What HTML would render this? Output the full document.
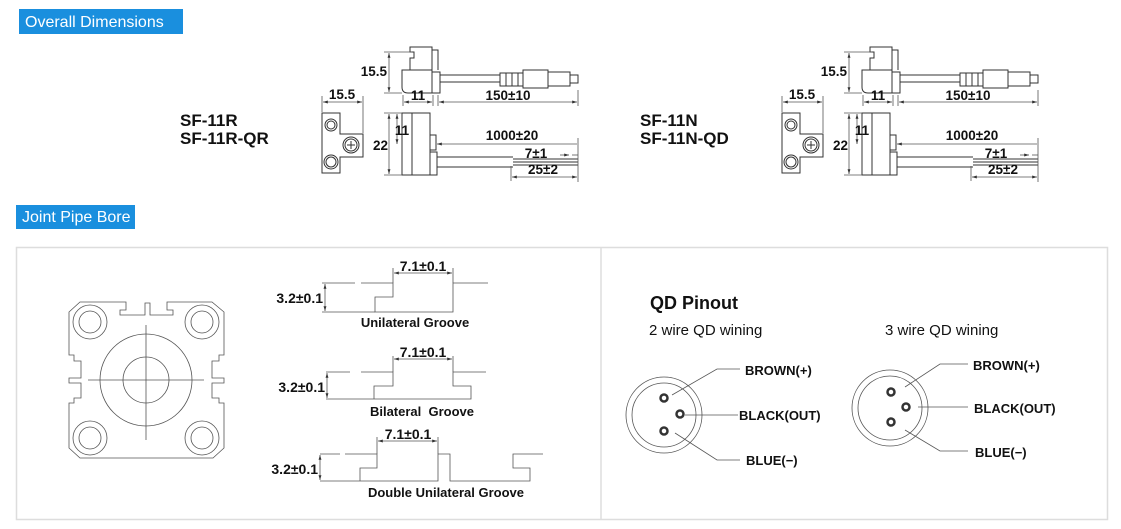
<!DOCTYPE html>
<html><head><meta charset="utf-8"><style>
html,body{margin:0;padding:0;background:#fff;}
svg{display:block;font-family:"Liberation Sans",Arial,sans-serif;}
.l{fill:none;stroke:#333;stroke-width:1}
.t{stroke:#555;stroke-width:0.8;fill:none}
.d{font-size:13.5px;fill:#111;font-weight:bold}
</style></head><body>
<svg width="1121" height="529" viewBox="0 0 1121 529" xmlns="http://www.w3.org/2000/svg">
<defs>
<marker id="a" viewBox="0 0 10 10" refX="10" refY="5" markerWidth="6" markerHeight="6" orient="auto-start-reverse"><path d="M0,2 L10,5 L0,8z" fill="#333"/></marker>
</defs>
<rect x="19" y="9" width="164" height="25" fill="#1a8fde"/>
<text x="25" y="27" font-size="16" fill="#fff">Overall Dimensions</text>
<rect x="16" y="205" width="119" height="24" fill="#1a8fde"/>
<text x="22" y="222" font-size="16" fill="#fff">Joint Pipe Bore</text>
<rect x="16.5" y="247.5" width="1091" height="272" fill="none" stroke="#ddd" stroke-width="1.5"/>
<line x1="601" y1="248" x2="601" y2="519" stroke="#ddd" stroke-width="1.5"/>

<g font-size="17" font-weight="bold" fill="#111">
<text x="180" y="126">SF-11R</text>
<text x="180" y="144">SF-11R-QR</text>
<text x="640" y="126">SF-11N</text>
<text x="640" y="144">SF-11N-QD</text>
</g>

<!-- sensor drawing 1 -->
<g>
<path class="l" d="M410,70 V58 H414 V52 H410 V47 H432 V70 M432,50 H438 V70 M402,70 H432 V93 H408 Q402,93 402,87 Z M432,72 H440 V93 H432 M440,75 H500 M440,82 H500 M500,73 H523 V86 H500 Z M506,73 V86 M512,73 V86 M518,73 V86 M523,70 H548 V88 H523 Z M548,72 H570 V86 H548 Z M570,75 H578 V83 H570"/>
<line class="t" x1="389" y1="53" x2="389" y2="92" marker-start="url(#a)" marker-end="url(#a)"/>
<line class="t" x1="384" y1="52" x2="412" y2="52"/><line class="t" x1="384" y1="93" x2="402" y2="93"/>
<text class="d" x="387" y="76" text-anchor="end">15.5</text>
<line class="t" x1="403" y1="95" x2="403" y2="106"/><line class="t" x1="433" y1="95" x2="433" y2="106"/>
<line class="t" x1="404" y1="102" x2="432" y2="102" marker-start="url(#a)" marker-end="url(#a)"/>
<text class="d" x="418" y="100" text-anchor="middle">11</text>
<line class="t" x1="438" y1="95" x2="438" y2="106"/><line class="t" x1="578" y1="90" x2="578" y2="106"/>
<line class="t" x1="439" y1="102" x2="577" y2="102" marker-start="url(#a)" marker-end="url(#a)"/>
<text class="d" x="508" y="100" text-anchor="middle">150±10</text>
<path class="l" d="M322,113 H340 V134 H363 V157 H340 V173 H322 Z"/>
<circle class="l" cx="331" cy="125" r="6"/><circle class="l" cx="331" cy="125" r="4"/>
<circle class="l" cx="331" cy="162" r="7"/><circle class="l" cx="331" cy="162" r="5"/>
<circle class="l" cx="351" cy="145" r="8"/><circle class="l" cx="351" cy="145" r="6"/>
<path class="l" d="M347,145 H355 M351,141 V149"/>
<line class="t" x1="322" y1="96" x2="322" y2="112"/><line class="t" x1="363" y1="96" x2="363" y2="133"/>
<line class="t" x1="323" y1="102" x2="362" y2="102" marker-start="url(#a)" marker-end="url(#a)"/>
<text class="d" x="342" y="99" text-anchor="middle">15.5</text>
<path class="l" d="M402,113 H430 V175 H402 Z M412,113 V175 M430,135 H436 V150 H430 M430,152 H437 V175 H430 M437,157 H513 M437,167 H513 M513,159 H578 M513,162 H578 M513,165 H578"/>
<line class="t" x1="384" y1="113" x2="402" y2="113"/><line class="t" x1="384" y1="175" x2="402" y2="175"/>
<line class="t" x1="389" y1="114" x2="389" y2="174" marker-start="url(#a)" marker-end="url(#a)"/>
<text class="d" x="388" y="150" text-anchor="end">22</text>
<line class="t" x1="397" y1="114" x2="397" y2="144" marker-start="url(#a)" marker-end="url(#a)"/>
<text class="d" x="402" y="135" text-anchor="middle">11</text>
<line class="t" x1="437" y1="144" x2="577" y2="144" marker-start="url(#a)"/>
<line class="t" x1="578" y1="138" x2="578" y2="182"/>
<text class="d" x="512" y="140" text-anchor="middle">1000±20</text>
<line class="t" x1="560" y1="155" x2="569" y2="155" marker-end="url(#a)"/>
<line class="t" x1="572" y1="155" x2="578" y2="155"/>
<text class="d" x="536" y="158" text-anchor="middle">7±1</text>
<line class="t" x1="511" y1="166" x2="511" y2="181"/>
<line class="t" x1="512" y1="177" x2="577" y2="177" marker-start="url(#a)" marker-end="url(#a)"/>
<text class="d" x="543" y="174" text-anchor="middle">25±2</text>
</g>

<!-- sensor drawing 2 -->
<g transform="translate(460,0)">
<path class="l" d="M410,70 V58 H414 V52 H410 V47 H432 V70 M432,50 H438 V70 M402,70 H432 V93 H408 Q402,93 402,87 Z M432,72 H440 V93 H432 M440,75 H500 M440,82 H500 M500,73 H523 V86 H500 Z M506,73 V86 M512,73 V86 M518,73 V86 M523,70 H548 V88 H523 Z M548,72 H570 V86 H548 Z M570,75 H578 V83 H570"/>
<line class="t" x1="389" y1="53" x2="389" y2="92" marker-start="url(#a)" marker-end="url(#a)"/>
<line class="t" x1="384" y1="52" x2="412" y2="52"/><line class="t" x1="384" y1="93" x2="402" y2="93"/>
<text class="d" x="387" y="76" text-anchor="end">15.5</text>
<line class="t" x1="403" y1="95" x2="403" y2="106"/><line class="t" x1="433" y1="95" x2="433" y2="106"/>
<line class="t" x1="404" y1="102" x2="432" y2="102" marker-start="url(#a)" marker-end="url(#a)"/>
<text class="d" x="418" y="100" text-anchor="middle">11</text>
<line class="t" x1="438" y1="95" x2="438" y2="106"/><line class="t" x1="578" y1="90" x2="578" y2="106"/>
<line class="t" x1="439" y1="102" x2="577" y2="102" marker-start="url(#a)" marker-end="url(#a)"/>
<text class="d" x="508" y="100" text-anchor="middle">150±10</text>
<path class="l" d="M322,113 H340 V134 H363 V157 H340 V173 H322 Z"/>
<circle class="l" cx="331" cy="125" r="6"/><circle class="l" cx="331" cy="125" r="4"/>
<circle class="l" cx="331" cy="162" r="7"/><circle class="l" cx="331" cy="162" r="5"/>
<circle class="l" cx="351" cy="145" r="8"/><circle class="l" cx="351" cy="145" r="6"/>
<path class="l" d="M347,145 H355 M351,141 V149"/>
<line class="t" x1="322" y1="96" x2="322" y2="112"/><line class="t" x1="363" y1="96" x2="363" y2="133"/>
<line class="t" x1="323" y1="102" x2="362" y2="102" marker-start="url(#a)" marker-end="url(#a)"/>
<text class="d" x="342" y="99" text-anchor="middle">15.5</text>
<path class="l" d="M402,113 H430 V175 H402 Z M412,113 V175 M430,135 H436 V150 H430 M430,152 H437 V175 H430 M437,157 H513 M437,167 H513 M513,159 H578 M513,162 H578 M513,165 H578"/>
<line class="t" x1="384" y1="113" x2="402" y2="113"/><line class="t" x1="384" y1="175" x2="402" y2="175"/>
<line class="t" x1="389" y1="114" x2="389" y2="174" marker-start="url(#a)" marker-end="url(#a)"/>
<text class="d" x="388" y="150" text-anchor="end">22</text>
<line class="t" x1="397" y1="114" x2="397" y2="144" marker-start="url(#a)" marker-end="url(#a)"/>
<text class="d" x="402" y="135" text-anchor="middle">11</text>
<line class="t" x1="437" y1="144" x2="577" y2="144" marker-start="url(#a)"/>
<line class="t" x1="578" y1="138" x2="578" y2="182"/>
<text class="d" x="512" y="140" text-anchor="middle">1000±20</text>
<line class="t" x1="560" y1="155" x2="569" y2="155" marker-end="url(#a)"/>
<line class="t" x1="572" y1="155" x2="578" y2="155"/>
<text class="d" x="536" y="158" text-anchor="middle">7±1</text>
<line class="t" x1="511" y1="166" x2="511" y2="181"/>
<line class="t" x1="512" y1="177" x2="577" y2="177" marker-start="url(#a)" marker-end="url(#a)"/>
<text class="d" x="543" y="174" text-anchor="middle">25±2</text>
</g>

<!-- flange -->
<g class="t" stroke="#555">
<path d="M80,302 H126 V310 H120 V315 H145 V303 H150 V315 H173 V310 H167 V302 H212 L224,312 V355 H219 V361 H212 V378 H224 V383 H212 V398 H219 V403 H224 V448 L213,458 H80 L69,448 V403 H74 V398 H81 V383 H69 V378 H81 V361 H74 V355 H69 V312 Z"/>
<circle cx="90" cy="322" r="17"/><circle cx="90" cy="322" r="11"/>
<circle cx="202" cy="322" r="17"/><circle cx="202" cy="322" r="11"/>
<circle cx="90" cy="438" r="17"/><circle cx="90" cy="438" r="11"/>
<circle cx="202" cy="438" r="17"/><circle cx="202" cy="438" r="11"/>
<circle cx="146" cy="380" r="46"/><circle cx="146" cy="380" r="23"/>
<path d="M88,380 H204 M146,325 V440"/>
</g>

<!-- grooves -->
<g class="t">
<path d="M322,283 H355 M361,283 H393 V297 H375 V312 H453 V283 H488"/>
<path d="M322,312 H375"/>
<line x1="325" y1="284" x2="325" y2="311" marker-start="url(#a)" marker-end="url(#a)"/>
<path d="M393,283 V268 M453,283 V268"/>
<line x1="394" y1="273" x2="452" y2="273" marker-start="url(#a)" marker-end="url(#a)"/>
<path d="M326,372 H350 M361,372 H393 V386 H374 V399 H471 V386 H453 V372 H486 M326,399 H374"/>
<line x1="327" y1="373" x2="327" y2="398" marker-start="url(#a)" marker-end="url(#a)"/>
<path d="M393,372 V356 M453,372 V356"/>
<line x1="394" y1="359" x2="452" y2="359" marker-start="url(#a)" marker-end="url(#a)"/>
<path d="M320,454 H340 M345,454 H377 V468 H360 V481 H438 V454 H450 V481 H530 V468 H513 V454 H543 M320,481 H360"/>
<line x1="320" y1="455" x2="320" y2="480" marker-start="url(#a)" marker-end="url(#a)"/>
<path d="M377,454 V437 M438,454 V437"/>
<line x1="378" y1="441" x2="437" y2="441" marker-start="url(#a)" marker-end="url(#a)"/>
</g>
<g font-size="14" fill="#111" font-weight="bold">
<text x="323" y="303" text-anchor="end">3.2±0.1</text>
<text x="423" y="271" text-anchor="middle">7.1±0.1</text>
<text x="415" y="327" text-anchor="middle" font-size="13">Unilateral Groove</text>
<text x="325" y="392" text-anchor="end">3.2±0.1</text>
<text x="423" y="357" text-anchor="middle">7.1±0.1</text>
<text x="422" y="416" text-anchor="middle" font-size="13" xml:space="preserve">Bilateral  Groove</text>
<text x="318" y="474" text-anchor="end">3.2±0.1</text>
<text x="408" y="439" text-anchor="middle">7.1±0.1</text>
<text x="446" y="497" text-anchor="middle" font-size="13">Double Unilateral Groove</text>
</g>

<!-- QD pinout -->
<text x="650" y="309" font-size="18" font-weight="bold" fill="#111">QD Pinout</text>
<text x="649" y="335" font-size="15" fill="#111">2 wire QD wining</text>
<text x="885" y="335" font-size="15" fill="#111">3 wire QD wining</text>
<g class="t">
<circle cx="664" cy="415" r="38"/><circle cx="664" cy="415" r="32"/>
<path d="M672,395 L717,369 H740 M685,415 H738 M675,433 L717,460 H740"/>
<circle cx="890" cy="408" r="38"/><circle cx="890" cy="408" r="32"/>
<path d="M905,387 L940,364 H968 M918,407 H968 M905,430 L940,451 H968"/>
</g>
<g fill="none" stroke="#333" stroke-width="2.5">
<circle cx="664" cy="398" r="3.5"/><circle cx="680" cy="414" r="3.5"/><circle cx="664" cy="431" r="3.5"/>
<circle cx="891" cy="392" r="3.5"/><circle cx="906" cy="407" r="3.5"/><circle cx="891" cy="422" r="3.5"/>
</g>
<g font-size="13" fill="#111" font-weight="bold">
<text x="745" y="375">BROWN(+)</text>
<text x="739" y="420">BLACK(OUT)</text>
<text x="746" y="465">BLUE(−)</text>
<text x="973" y="370">BROWN(+)</text>
<text x="974" y="413">BLACK(OUT)</text>
<text x="975" y="457">BLUE(−)</text>
</g>
</svg>
</body></html>
